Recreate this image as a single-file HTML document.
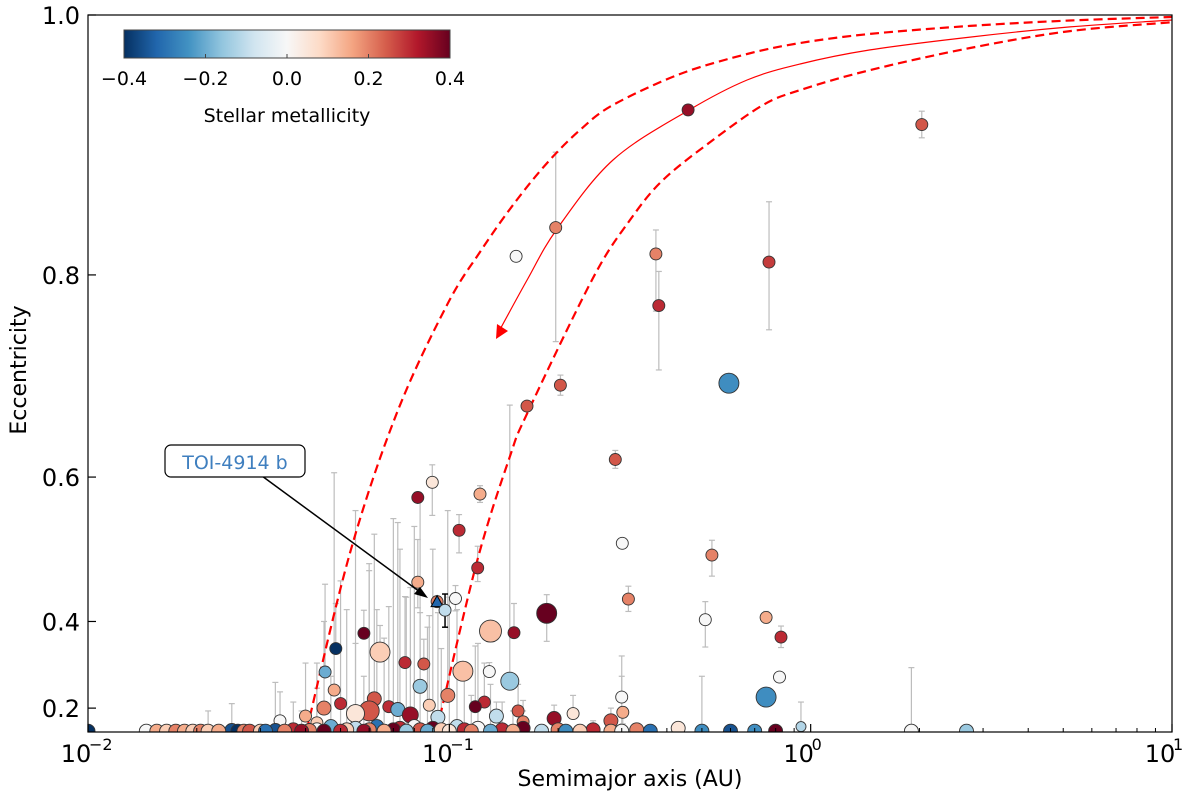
<!DOCTYPE html>
<html><head><meta charset="utf-8"><style>
html,body{margin:0;padding:0;background:#fff;}
svg{display:block;font-family:"DejaVu Sans","Liberation Sans",sans-serif;}
</style></head><body>
<svg id="chart" width="1200" height="804" viewBox="0 0 1200 804">
<defs>
<linearGradient id="cbar" x1="0" x2="1" y1="0" y2="0">
<stop offset="0" stop-color="#053061"/><stop offset="0.1" stop-color="#2166ac"/><stop offset="0.2" stop-color="#4393c3"/><stop offset="0.3" stop-color="#92c5de"/><stop offset="0.4" stop-color="#d1e5f0"/><stop offset="0.5" stop-color="#f7f7f7"/><stop offset="0.6" stop-color="#fddbc7"/><stop offset="0.7" stop-color="#f4a582"/><stop offset="0.8" stop-color="#d6604d"/><stop offset="0.9" stop-color="#b2182b"/><stop offset="1" stop-color="#67001f"/>
</linearGradient>
<clipPath id="plotclip"><rect x="88" y="15" width="1084" height="717"/></clipPath>
</defs>
<g id="errs" clip-path="url(#plotclip)"></g>
<g id="tracks" clip-path="url(#plotclip)"></g>
<g id="pts" clip-path="url(#plotclip)"></g>
<g id="axes"></g>
<g>
<rect x="124" y="30" width="326" height="28" fill="url(#cbar)" stroke="#444" stroke-width="1"/>
<g font-size="19" fill="#000" text-anchor="middle">
<text x="124" y="85">−0.4</text>
<text x="205.5" y="85">−0.2</text>
<text x="287" y="85">0.0</text>
<text x="368.5" y="85">0.2</text>
<text x="450" y="85">0.4</text>
</g>
<g stroke="#444"><line x1="205.5" y1="58" x2="205.5" y2="54"/><line x1="287" y1="58" x2="287" y2="54"/><line x1="368.5" y1="58" x2="368.5" y2="54"/></g>
<text x="287" y="122" font-size="19" text-anchor="middle">Stellar metallicity</text>
</g>
<g>
<line x1="262" y1="476" x2="420" y2="592" stroke="#000" stroke-width="1.5"/>
<polygon points="428,598 414,594 420,587" fill="#000"/>
<rect x="165" y="445" width="140" height="32" rx="6" fill="#fff" stroke="#000" stroke-width="1.2"/>
<text x="235" y="469" font-size="19" fill="#3f7fbf" text-anchor="middle">TOI-4914 b</text>
</g>
</svg>
<script>
// ---- data: main (elevated) planets ----
const mainA=[0.458,2.03,0.197,0.153,0.373,0.767,0.380,0.594,0.203,0.164,0.288,0.0897,0.0818,0.1216,0.1064,0.301,0.533,0.0818,0.1198,0.186,0.313,0.130,0.104,0.511,0.753,0.828,0.0643,0.058,0.0485,0.0453,0.109,0.147,0.753,0.82,0.129,0.151,0.0754,0.085,0.0480,0.0600,0.0830,0.0990,0.300,0.302,0.94];
const mainE=[0.932,0.921,0.840,0.816,0.818,0.811,0.773,0.700,0.698,0.677,0.620,0.594,0.576,0.580,0.535,0.518,0.502,0.463,0.484,0.414,0.437,0.383,0.438,0.403,0.407,0.372,0.343,0.379,0.350,0.300,0.302,0.278,0.235,0.288,0.301,0.380,0.321,0.318,0.255,0.190,0.265,0.240,0.235,0.185,0.120];
const mainFeh=[0.35,0.25,0.2,0.0,0.2,0.28,0.3,-0.25,0.25,0.25,0.25,0.05,0.35,0.15,0.3,0.0,0.2,0.15,0.3,0.4,0.2,0.12,0.0,0.0,0.15,0.3,0.1,0.4,-0.4,-0.2,0.12,-0.15,-0.25,0.0,0.0,0.35,0.3,0.25,0.15,0.25,-0.15,0.2,0.0,0.15,-0.12];
const mainR=[6,6,6,6,6,6,6,10,6,6,6,6,6,6,6,6,6,6,6,10,6,11,6,6,6,6,10,6,6,6,10,9,10,6,6,6,6,6,6,10,7,7,6,6,5];
const mainLo=[0,0.01,0.10,0,0.05,0.06,0.06,0,0.01,0,0.01,0.04,0,0.01,0.03,0,0.03,0.04,0.02,0.05,0.02,0,0.02,0.05,0.01,0.02,0,0,0,0,0,0,0,0,0,0,0,0,0,0,0,0,0,0.05,0];
const mainHi=[0,0.01,0.06,0,0.02,0.05,0.03,0,0.01,0,0.01,0.02,0,0.01,0.02,0,0.02,0.06,0.03,0.03,0.02,0,0.02,0.03,0.01,0.02,0.05,0.04,0.08,0.16,0.02,0.40,0,0,0.02,0.05,0.12,0.05,0.35,0.30,0.15,0.32,0.10,0.02,0.10];
// ---- low-eccentricity cluster ----
const midA=[0.045,0.050,0.055,0.062,0.068,0.072,0.078,0.088,0.093,0.118,0.125,0.135,0.155,0.195,0.16,0.22,0.28,0.034,0.040,0.043];
const midE=[0.200,0.215,0.180,0.230,0.205,0.195,0.175,0.210,0.165,0.205,0.220,0.170,0.190,0.160,0.145,0.180,0.150,0.150,0.170,0.140];
const midFeh=[0.2,0.3,0.05,0.25,0.3,-0.2,0.35,0.1,-0.1,0.4,0.3,-0.1,0.25,0.35,0.2,0.05,0.25,0.0,0.15,0.1];
const midR=[7,6,9,7,6,7,8,6,7,6,6,7,6,7,6,6,7,6,6,6];
const midHi=[0.20,0.25,0.38,0.30,0.22,0.35,0.28,0.20,0.25,0.15,0.10,0.05,0.08,0.05,0.08,0.06,0.05,0.10,0.15,0.12];
// ---- near-circular planets at the axis floor ----
const botA=[0.0100,0.0145,0.0155,0.0165,0.0175,0.0185,0.0195,0.0205,0.0215,0.023,0.025,0.026,0.027,0.028,0.030,0.031,0.033,0.035,0.037,0.039,0.041,0.043,0.045,0.047,0.050,0.052,0.055,0.058,0.060,0.063,0.066,0.070,0.073,0.076,0.080,0.083,0.087,0.090,0.095,0.100,0.105,0.110,0.115,0.120,0.130,0.140,0.150,0.160,0.180,0.200,0.210,0.230,0.250,0.280,0.300,0.330,0.360,0.430,0.500,0.600,0.700,0.800,1.900,2.700];
const botE=[0.09,0.09,0.09,0.09,0.09,0.09,0.09,0.09,0.09,0.09,0.095,0.09,0.09,0.09,0.09,0.09,0.095,0.09,0.10,0.09,0.095,0.10,0.09,0.12,0.09,0.10,0.11,0.09,0.10,0.12,0.09,0.10,0.11,0.09,0.12,0.10,0.09,0.11,0.10,0.09,0.12,0.10,0.09,0.11,0.09,0.10,0.09,0.11,0.09,0.10,0.09,0.09,0.10,0.09,0.09,0.10,0.09,0.11,0.09,0.09,0.09,0.09,0.09,0.09];
const botFeh=[-0.4,0.0,0.15,0.1,0.2,0.15,0.1,0.2,0.1,0.15,-0.35,-0.4,0.2,0.25,0.1,-0.3,-0.35,0.2,0.3,0.35,0.2,0.0,0.4,-0.2,0.3,0.1,-0.1,0.35,0.2,-0.3,0.15,0.4,0.3,-0.15,0.0,0.25,-0.2,0.4,0.1,0.05,-0.1,0.3,0.2,0.0,-0.2,0.3,0.15,0.4,-0.1,0.2,-0.25,0.1,0.3,0.15,0.0,0.2,-0.3,0.05,-0.25,-0.35,-0.25,0.4,0.0,-0.15];
const botHi=[0,0,0,0,0,0,0,0,0.10,0,0.12,0,0,0,0,0,0.18,0,0.12,0.10,0,0.22,0,0.17,0.12,0.32,0.25,0.20,0.38,0.30,0.28,0.45,0.40,0.35,0.42,0.48,0.30,0.40,0.25,0.35,0.30,0.20,0.15,0.25,0.18,0.12,0.10,0.08,0,0.06,0,0,0.05,0,0.20,0,0,0,0.20,0,0,0,0.22,0];
// ---- migration tracks (a in AU, eccentricity) ----
const trackLeftA=[0.0403,0.0531,0.0716,0.0985,0.1216,0.150,0.1864,0.230,0.2838,0.4351,0.6668,0.9348,1.46,2.762,5.22,10];
const trackLeftE=[0.098,0.505,0.670,0.7735,0.8196,0.8584,0.8916,0.9169,0.9356,0.9583,0.9726,0.9804,0.9868,0.9924,0.9962,0.9986];
const trackRightA=[0.0923,0.119,0.147,0.165,0.2498,0.3163,0.3904,0.537,0.7385,0.9348,1.46,2.762,5.22,10];
const trackRightE=[0.098,0.491,0.623,0.671,0.7973,0.8462,0.8784,0.9094,0.9356,0.9466,0.9611,0.9769,0.9888,0.995];
const trackSolidA=[0.1355,0.1641,0.1986,0.2838,0.4609,0.6668,0.9348,1.46,2.762,5.22,10];
const trackSolidE=[0.7462,0.7956,0.8388,0.894,0.9319,0.9539,0.9655,0.9755,0.9846,0.9917,0.9965];
const xTickLabels=["10","10","10","10"];
const xTickExps=["−2","−1","0","1"];
const yTicks=[0.2,0.4,0.6,0.8,1.0];
const yTickLabels=["0.2","0.4","0.6","0.8","1.0"];

const X0=88,X1=1172,Y0=15,Y1=732;
function xs(a){return X0+(Math.log10(a)+2)*(X1-X0)/3;}
function ys(e){return Y0+722*(1-e*e);}
const stops=["#053061","#2166ac","#4393c3","#92c5de","#d1e5f0","#f7f7f7","#fddbc7","#f4a582","#d6604d","#b2182b","#67001f"];
function hx(h){return [1,3,5].map(i=>parseInt(h.substr(i,2),16));}
function cmap(v){let t=Math.max(0,Math.min(1,(v+0.4)/0.8))*10;let i=Math.min(9,Math.floor(t)),f=t-i;
 const a=hx(stops[i]),b=hx(stops[i+1]);return "rgb("+a.map((c,k)=>Math.round(c+(b[k]-c)*f)).join(",")+")";}
const NS="http://www.w3.org/2000/svg";
function mk(tag,attrs,parent){const el=document.createElementNS(NS,tag);for(const k in attrs)el.setAttribute(k,attrs[k]);parent.appendChild(el);return el;}
const errs=document.getElementById('errs'),pts=document.getElementById('pts'),axes=document.getElementById('axes'),tracks=document.getElementById('tracks');

const A=[...mainA,...midA,...botA];
const E=[...mainE,...midE,...botE];
const F=[...mainFeh,...midFeh,...botFeh];
const R=[...mainR,...midR,...botA.map(()=>7)];
const LO=[...mainLo,...midA.map(()=>0),...botA.map(()=>0)];
const HI=[...mainHi,...midHi,...botHi];

for(let i=0;i<A.length;i++){
 const lo=LO[i]||0,hi=HI[i]||0;
 if(!lo&&!hi)continue;
 const x=xs(A[i]),yt=ys(Math.min(0.999,E[i]+hi)),yb=ys(Math.max(0,E[i]-lo));
 const g=mk('g',{stroke:"#bdbdbd","stroke-width":1.2},errs);
 
 
 mk('line',{x1:x,x2:x,y1:yt,y2:yb},g);
 mk('line',{x1:x-3,x2:x+3,y1:yt,y2:yt},g);
 if(lo)mk('line',{x1:x-3,x2:x+3,y1:yb,y2:yb},g);
}
function smoothPath(P){
 let d="M"+P[0][0].toFixed(1)+","+P[0][1].toFixed(1);
 for(let i=0;i<P.length-1;i++){
  const p0=P[Math.max(0,i-1)],p1=P[i],p2=P[i+1],p3=P[Math.min(P.length-1,i+2)];
  const c1=[p1[0]+(p2[0]-p0[0])/6,p1[1]+(p2[1]-p0[1])/6],c2=[p2[0]-(p3[0]-p1[0])/6,p2[1]-(p3[1]-p1[1])/6];
  d+="C"+c1.map(v=>v.toFixed(1)).join(",")+" "+c2.map(v=>v.toFixed(1)).join(",")+" "+p2.map(v=>v.toFixed(1)).join(",");
 }
 return d;
}
function track(as,es,dash,w){
 const P=as.map((a,i)=>[xs(a),ys(es[i])]);
 const p=mk('path',{d:smoothPath(P),fill:"none",stroke:"#ff0000","stroke-width":w,"stroke-dasharray":dash},tracks);
 
 
}
track(trackLeftA,trackLeftE,"9,5",2.2);
track(trackRightA,trackRightE,"9,5",2.2);
track(trackSolidA,trackSolidE,"none",1.2);
{const x=xs(trackSolidA[0]),y=ys(trackSolidE[0]);
 const ah=mk('polygon',{points:`${x-1},${y+4} ${x},${y-11} ${x+11},${y-4}`,fill:"#ff0000"},tracks);
 
 }

const order=[...A.keys()].sort((a,b)=>E[b]-E[a]);
for(const i of order){
 const c=mk('circle',{cx:xs(A[i]).toFixed(1),cy:ys(E[i]).toFixed(1),r:R[i],fill:cmap(F[i]),stroke:"#333","stroke-width":0.9},pts);
 
 
}
{const x=xs(0.0925),y=ys(0.433);
 const g=mk('g',{},pts);
 
 
 mk('circle',{cx:x,cy:y,r:6,fill:cmap(0.2),stroke:"#333","stroke-width":0.9},g);
 mk('polygon',{points:`${x},${y-6} ${x-6},${y+5} ${x+6},${y+5}`,fill:"#2166ac",stroke:"#000","stroke-width":1},g);
 const x2=xs(0.0973),yt=ys(0.445),yb=ys(0.39);
 mk('line',{x1:x2,x2:x2,y1:yt,y2:yb,stroke:"#000","stroke-width":1.5},g);
 mk('line',{x1:x2-3,x2:x2+3,y1:yt,y2:yt,stroke:"#000","stroke-width":1.5},g);
 mk('line',{x1:x2-3,x2:x2+3,y1:yb,y2:yb,stroke:"#000","stroke-width":1.5},g);
 mk('circle',{cx:x2,cy:ys(0.419),r:6,fill:cmap(-0.1),stroke:"#333","stroke-width":0.9},g);
}
const fr=mk('rect',{x:X0,y:Y0,width:X1-X0,height:Y1-Y0,fill:"none",stroke:"#000","stroke-width":1.2},axes);


for(let d=0;d<4;d++){
 const x=X0+d*(X1-X0)/3;
 mk('line',{x1:x,x2:x,y1:Y1,y2:Y1-8,stroke:"#000","stroke-width":1.2},axes);
 const t=mk('text',{x:x-12,y:Y1+30,"font-size":24,"text-anchor":"middle"},axes);
 
 
 t.textContent=xTickLabels[d];
 const s=mk('text',{x:x+1,y:Y1+18,"font-size":16},axes);
 
 
 s.textContent=xTickExps[d];
 if(d<3)for(let m=2;m<10;m++){const xm=x+Math.log10(m)*(X1-X0)/3;mk('line',{x1:xm,x2:xm,y1:Y1,y2:Y1-4,stroke:"#000","stroke-width":1},axes);}
}
yTicks.forEach((v,i)=>{const y=ys(v);
 mk('line',{x1:X0,x2:X0+8,y1:y,y2:y,stroke:"#000","stroke-width":1.2},axes);
 const t=mk('text',{x:X0-8,y:y+9,"font-size":24,"text-anchor":"end"},axes);
 
 
 t.textContent=yTickLabels[i];});
const xl=mk('text',{x:630,y:786,"font-size":22,"text-anchor":"middle"},axes);


xl.textContent="Semimajor axis (AU)";
const yl=mk('text',{x:0,y:0,"font-size":22,"text-anchor":"middle",transform:"translate(26,370) rotate(-90)"},axes);


yl.textContent="Eccentricity";
</script>
</body></html>
